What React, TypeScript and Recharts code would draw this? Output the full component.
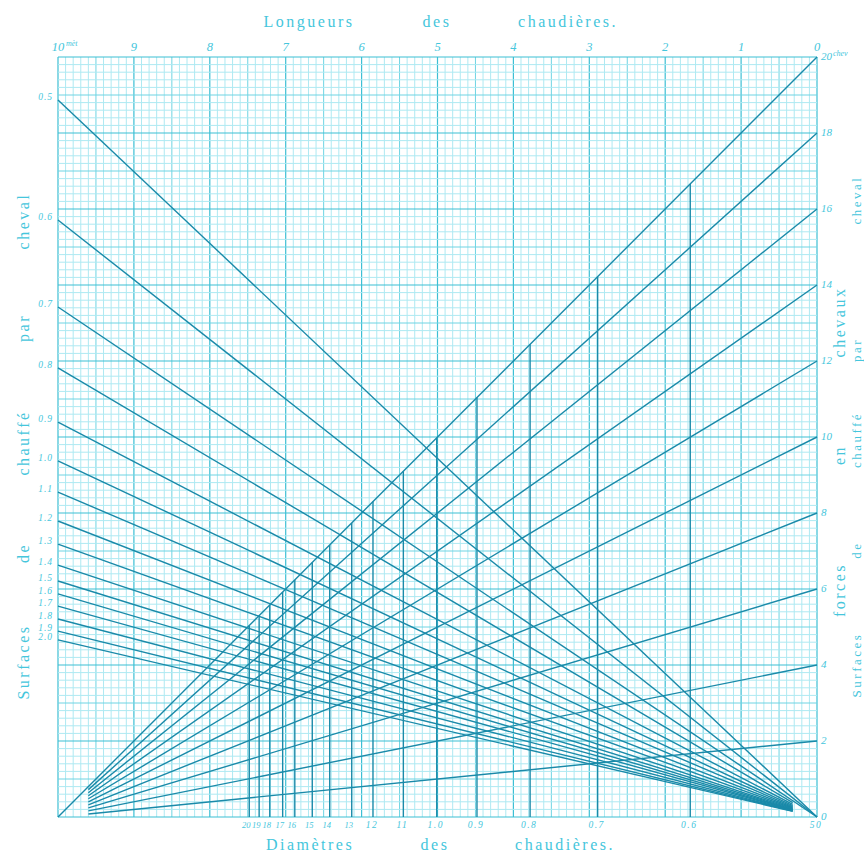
import { LineChart, Line, XAxis, YAxis, ReferenceLine } from "recharts";

// right edge: forces en chevaux reached by each rising line (at length 0)
const forceLevels = [2, 4, 6, 8, 10, 12, 14, 16, 18, 20];
const forceTicks = [0, 2, 4, 6, 8, 10, 12, 14, 16, 18, 20];

// top edge: longueurs des chaudières (mètres)
const lengthTicks = [0, 1, 2, 3, 4, 5, 6, 7, 8, 9, 10];

// left edge: surfaces de chauffe par cheval, and the height (in chevaux) where each falling line starts
const surfaceLabels = ["0.5", "0.6", "0.7", "0.8", "0.9", "1.0", "1.1", "1.2", "1.3", "1.4", "1.5", "1.6", "1.7", "1.8", "1.9", "2.0"];
const surfaceStarts = [18.87, 15.71, 13.42, 11.82, 10.39, 9.37, 8.55, 7.79, 7.18, 6.63, 6.21, 5.87, 5.55, 5.21, 4.89, 4.66];

// bottom edge: diamètres des chaudières, and their position on the length scale
const diameterLabels = ["20", "19", "18", "17", "16", "15", "14", "13", "12", "11", "1.0", "0.9", "0.8", "0.7", "0.6", "50"];
const diameterLengths = [7.48, 7.35, 7.21, 7.04, 6.88, 6.65, 6.42, 6.13, 5.85, 5.45, 5.01, 4.48, 3.78, 2.89, 1.67, 0];

const FAN_START = 9.6; // fan lines leave a small gap at the lower-left corner
const FAN_END = 0.32; // and at the lower-right corner

const INK = "#1a8aa9";
const TEXT = "#45c6dc";
const SERIF = "'Liberation Serif', 'DejaVu Serif', serif";

const rising = forceLevels.map((f) => {
  const x0 = f === 20 ? 10 : FAN_START;
  return {
    name: `${f} chev`,
    data: [
      { x: x0, y: (f * (10 - x0)) / 10 },
      { x: 0, y: f },
    ],
  };
});

const falling = surfaceStarts.map((s, i) => {
  const x1 = s > 12 ? 0 : FAN_END;
  return {
    name: surfaceLabels[i],
    data: [
      { x: 10, y: s },
      { x: x1, y: (s * x1) / 10 },
    ],
  };
});

// verticals rise from the bottom up to the 20 chev diagonal
const verticals = diameterLengths
  .filter((l) => l > 0)
  .map((l, i) => ({
    name: diameterLabels[i],
    data: [
      { x: l, y: 0 },
      { x: l, y: (20 * (10 - l)) / 10 },
    ],
  }));

const gridX = Array.from({ length: 101 }, (_, i) => i);
const gridY = Array.from({ length: 101 }, (_, j) => j);

const gridStyle = (k: number) =>
  k % 10 === 0
    ? { stroke: "#3dbfd4", strokeWidth: 1.2 }
    : k % 5 === 0
    ? { stroke: "#6ed4e3", strokeWidth: 1 }
    : { stroke: "#aee9f2", strokeWidth: 1 };

const TopTick = ({ x, y, payload }: any) => (
  <g>
    <text x={x} y={y - 6} textAnchor="middle" fill={TEXT} fontSize={12.5} fontStyle="italic" fontFamily={SERIF}>
      {payload.value}
    </text>
    {payload.value === 10 && (
      <text x={x + 8} y={y - 11} fill={TEXT} fontSize={8} fontStyle="italic" fontFamily={SERIF}>
        mèt
      </text>
    )}
  </g>
);

const RightTick = ({ x, y, payload }: any) => (
  <g>
    <text x={x + 4} y={y + 3} fill={TEXT} fontSize={11} fontStyle="italic" fontFamily={SERIF}>
      {payload.value}
    </text>
    {payload.value === 20 && (
      <text x={x + 16} y={y - 1} fill={TEXT} fontSize={8} fontStyle="italic" fontFamily={SERIF}>
        chev
      </text>
    )}
  </g>
);

const LeftTick = ({ x, y, payload }: any) => {
  const i = surfaceStarts.indexOf(payload.value);
  return (
    <text x={x - 5} y={y} textAnchor="end" fill={TEXT} fontSize={9.5} fontStyle="italic" fontFamily={SERIF} letterSpacing={1}>
      {i >= 0 ? surfaceLabels[i] : ""}
    </text>
  );
};

const BottomTick = ({ x, y, payload }: any) => {
  const i = diameterLengths.indexOf(payload.value);
  const crowded = i < 8;
  return (
    <text
      x={x - (crowded ? 3 : 1)}
      y={y + 11}
      textAnchor="middle"
      fill={TEXT}
      fontSize={crowded ? 8.5 : 9.5}
      fontStyle="italic"
      fontFamily={SERIF}
      letterSpacing={crowded ? 0 : 1.5}
    >
      {i >= 0 ? diameterLabels[i] : ""}
    </text>
  );
};

const word = (text: string, x: number, y: number, vertical: boolean, size = 16) => (
  <div
    key={text + x + y}
    style={{
      position: "absolute",
      left: x,
      top: y,
      transform: `translate(-50%, -50%)${vertical ? " rotate(-90deg)" : ""}`,
      color: TEXT,
      fontFamily: SERIF,
      fontSize: size,
      letterSpacing: 2.5,
      whiteSpace: "nowrap",
      lineHeight: 1,
    }}
  >
    {text}
  </div>
);

export default function App() {
  return (
    <div style={{ position: "absolute", left: 0, top: 0, width: 864, height: 859, background: "#fff", overflow: "hidden" }}>
      <LineChart width={864} height={859} margin={{ top: 37, right: 17, bottom: 22, left: 28 }}>
        <XAxis
          xAxisId="top"
          orientation="top"
          dataKey="x"
          type="number"
          domain={[0, 10]}
          reversed
          ticks={lengthTicks}
          interval={0}
          height={20}
          tickSize={0}
          tickMargin={0}
          axisLine={false}
          tickLine={false}
          tick={TopTick}
        />
        <XAxis
          xAxisId="bottom"
          orientation="bottom"
          dataKey="x"
          type="number"
          domain={[0, 10]}
          reversed
          ticks={diameterLengths}
          interval={0}
          height={20}
          tickSize={0}
          tickMargin={0}
          axisLine={false}
          tickLine={false}
          tick={BottomTick}
        />
        <YAxis
          yAxisId="left"
          orientation="left"
          type="number"
          domain={[0, 20]}
          ticks={surfaceStarts}
          interval={0}
          width={30}
          tickSize={0}
          tickMargin={0}
          axisLine={false}
          tickLine={false}
          tick={LeftTick}
        />
        <YAxis
          yAxisId="right"
          orientation="right"
          type="number"
          domain={[0, 20]}
          ticks={forceTicks}
          interval={0}
          width={30}
          tickSize={0}
          tickMargin={0}
          axisLine={false}
          tickLine={false}
          tick={RightTick}
        />

        {gridX.map((i) => (
          <ReferenceLine key={`gx${i}`} x={i / 10} xAxisId="top" yAxisId="right" zIndex={-100} {...gridStyle(i)} />
        ))}
        {gridY.map((j) => (
          <ReferenceLine key={`gy${j}`} y={j / 5} xAxisId="top" yAxisId="right" zIndex={-100} {...gridStyle(j)} />
        ))}

        {rising.map((s) => (
          <Line key={`r${s.name}`} data={s.data} dataKey="y" xAxisId="top" yAxisId="right" type="linear" stroke={INK} strokeWidth={1.4} dot={false} activeDot={false} isAnimationActive={false} />
        ))}
        {falling.map((s) => (
          <Line key={`f${s.name}`} data={s.data} dataKey="y" xAxisId="top" yAxisId="left" type="linear" stroke={INK} strokeWidth={1.4} dot={false} activeDot={false} isAnimationActive={false} />
        ))}
        {verticals.map((s) => (
          <Line key={`v${s.name}`} data={s.data} dataKey="y" xAxisId="bottom" yAxisId="right" type="linear" stroke={INK} strokeWidth={1.4} dot={false} activeDot={false} isAnimationActive={false} />
        ))}
      </LineChart>

      {word("Longueurs", 309, 22, false)}
      {word("des", 437, 22, false)}
      {word("chaudières.", 568, 22, false)}

      {word("Diamètres", 310, 845, false)}
      {word("des", 435, 845, false)}
      {word("chaudières.", 565, 845, false)}

      {word("Surfaces", 24, 662, true)}
      {word("de", 24, 553, true)}
      {word("chauffé", 24, 443, true)}
      {word("par", 24, 328, true)}
      {word("cheval", 24, 221, true)}

      {word("forces", 840, 590, true)}
      {word("en", 840, 455, true)}
      {word("chevaux", 840, 322, true)}

      {word("Surfaces", 856, 665, true, 13)}
      {word("de", 856, 550, true, 13)}
      {word("chauffé", 856, 440, true, 13)}
      {word("par", 856, 350, true, 13)}
      {word("cheval", 856, 200, true, 13)}
    </div>
  );
}
